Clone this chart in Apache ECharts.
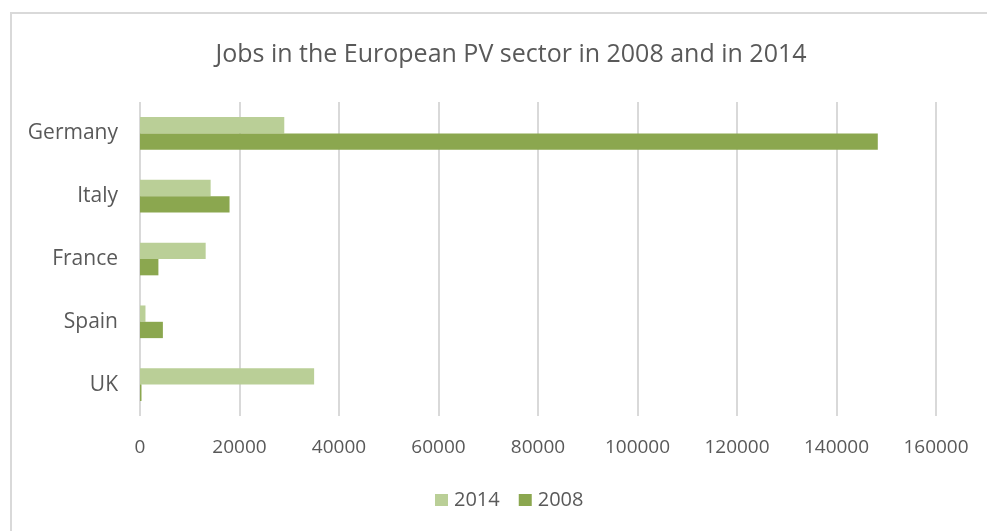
<!DOCTYPE html>
<html>
<head>
<meta charset="utf-8">
<title>Jobs in the European PV sector</title>
<script src="https://cdn.jsdelivr.net/npm/echarts@6/dist/echarts.min.js"></script>
<style>
    html, body { margin: 0; padding: 0; background: #fff; }
    #main { width: 987px; height: 531px; }
</style>
</head>
<body>
<div id="main"></div>
<script>
    // 数据
    var countries = ['Germany', 'Italy', 'France', 'Spain', 'UK'];
    var jobs2014 = [29000, 14200, 13200, 1100, 35000];
    var jobs2008 = [148300, 18000, 3700, 4600, 300];
    var xTicks = [0, 20000, 40000, 60000, 80000, 100000, 120000, 140000, 160000];

    var textColor = '#595959';
    var fontName = '"Open Sans", "Liberation Sans", sans-serif';

    var mychart = echarts.init(document.getElementById('main'));
    var option = {
        backgroundColor: '#fff',
        animation: false,
        title: {
            text: 'Jobs in the European PV sector in 2008 and in 2014',
            left: 506,
            top: 37,
            textAlign: 'center',
            textStyle: {
                color: textColor,
                fontSize: 25,
                fontWeight: 'normal',
                fontFamily: fontName
            }
        },
        // 外边框
        graphic: [{
            type: 'rect',
            shape: { x: 11, y: 13, width: 1000, height: 560 },
            style: { fill: 'none', stroke: '#d9d9d9', lineWidth: 2 },
            silent: true
        }],
        legend: {
            data: ['2014', '2008'],
            bottom: 16,
            left: 430,
            itemWidth: 13,
            itemHeight: 12,
            itemGap: 19,
            icon: 'rect',
            textStyle: {
                color: textColor,
                fontSize: 20,
                fontFamily: fontName,
                padding: [0, 0, 0, 1]
            }
        },
        grid: {
            left: 140,
            right: 51,
            top: 102,
            bottom: 115,
            containLabel: false
        },
        xAxis: {
            type: 'value',
            min: xTicks[0],
            max: xTicks[xTicks.length - 1],
            interval: 20000,
            axisLine: { show: false },
            axisTick: { show: false },
            axisLabel: {
                color: textColor,
                fontSize: 19,
                fontFamily: fontName,
                margin: 22,
                formatter: function (v) { return String(v); }
            },
            splitLine: {
                lineStyle: { color: '#d9d9d9', width: 2 }
            }
        },
        yAxis: {
            type: 'category',
            data: countries,
            inverse: true,
            axisLine: { show: false },
            axisTick: { show: false },
            axisLabel: {
                color: textColor,
                fontSize: 21,
                fontFamily: fontName,
                margin: 22
            }
        },
        series: [
            {
                name: '2014',
                type: 'bar',
                data: jobs2014,
                barGap: '0%',
                barCategoryGap: '48%',
                itemStyle: { color: '#bacf97' }
            },
            {
                name: '2008',
                type: 'bar',
                data: jobs2008,
                barGap: '0%',
                barCategoryGap: '48%',
                itemStyle: { color: '#8ba74f' }
            }
        ]
    };
    mychart.setOption(option);
</script>
</body>
</html>
